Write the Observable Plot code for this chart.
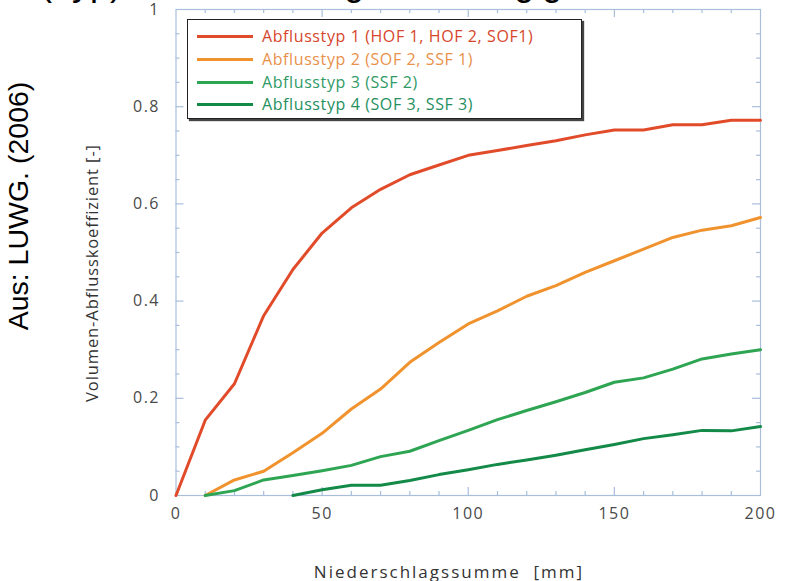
<!DOCTYPE html>
<html>
<head>
<meta charset="utf-8">
<script src="https://cdn.jsdelivr.net/npm/d3@7"></script>
<script src="https://cdn.jsdelivr.net/npm/@observablehq/plot@0.6"></script>
<style>
  body { margin: 0; background: #fff; }
  #wrap { position: relative; width: 787px; height: 581px; overflow: hidden; font-family: "Open Sans", sans-serif; }
  #chart { position: absolute; left: 0; top: 0; }
  #title { position: absolute; left: 40px; top: -31.4px; font-family: "Liberation Sans", Arial, sans-serif; font-size: 36px; line-height: 0.8; color: #000; white-space: nowrap; z-index: 3; }
  #source { position: absolute; left: 18px; top: 206px; transform: translate(-50%, -50%) rotate(-90deg); font-family: "Liberation Sans", Arial, sans-serif; font-size: 28.5px; line-height: 1; color: #000; white-space: nowrap; z-index: 3; }
  #ylabel { position: absolute; left: 92px; top: 273px; transform: translate(-50%, -50%) rotate(-90deg); font-size: 16.5px; line-height: 1; letter-spacing: 0.9px; color: #333; white-space: nowrap; z-index: 3; }
  #xlabel { position: absolute; left: 449px; top: 571px; transform: translate(-50%, -50%); font-size: 17px; line-height: 1; letter-spacing: 2px; color: #333; white-space: pre; z-index: 3; }
  #legend { position: absolute; left: 187px; top: 19px; width: 393px; height: 98px; border: 1.5px solid #222; background: #fff; box-shadow: 2px 2px 1px #444; z-index: 2; }
  .row { position: absolute; left: 9px; height: 20px; display: flex; align-items: center; font-size: 16px; letter-spacing: 0.6px; white-space: nowrap; }
  .sw { width: 56px; height: 3px; margin-right: 9px; }
</style>
</head>
<body>
<div id="wrap">
  <div id="chart"></div>
  <div id="title">(Typ) Abflussbildung in Abhängigkeit vom Niederschlag</div>
  <div id="source">Aus: LUWG. (2006)</div>
  <div id="ylabel">Volumen-Abflusskoeffizient [-]</div>
  <div id="xlabel">Niederschlagssumme  [mm]</div>
  <div id="legend"></div>
</div>
<script>
// x values: Niederschlagssumme [mm]
const precipitation = [0, 10, 20, 30, 40, 50, 60, 70, 80, 90, 100, 110, 120, 130, 140, 150, 160, 170, 180, 190, 200];
// Volumen-Abflusskoeffizient per Abflusstyp (null = not drawn)
const typ1 = [0, 0.155, 0.23, 0.37, 0.465, 0.54, 0.592, 0.63, 0.66, 0.68, 0.70, 0.71, 0.72, 0.73, 0.742, 0.752, 0.752, 0.763, 0.763, 0.772, 0.772];
const typ2 = [null, 0, 0.032, 0.05, 0.088, 0.128, 0.178, 0.219, 0.274, 0.315, 0.353, 0.38, 0.41, 0.432, 0.459, 0.483, 0.507, 0.531, 0.546, 0.555, 0.572];
const typ3 = [null, 0, 0.01, 0.032, 0.041, 0.051, 0.062, 0.08, 0.091, 0.113, 0.134, 0.156, 0.175, 0.193, 0.212, 0.233, 0.242, 0.26, 0.281, 0.291, 0.30];
const typ4 = [null, null, null, null, 0, 0.012, 0.021, 0.021, 0.031, 0.043, 0.053, 0.064, 0.073, 0.083, 0.094, 0.105, 0.117, 0.125, 0.134, 0.133, 0.142];

const seriesNames = ["Abflusstyp 1 (HOF 1, HOF 2, SOF1)", "Abflusstyp 2 (SOF 2, SSF 1)", "Abflusstyp 3 (SSF 2)", "Abflusstyp 4 (SOF 3, SSF 3)"];
const lineColors = ["#e14b2a", "#f0922e", "#2ea552", "#138a48"];
const textColors = ["#d6462c", "#e8914a", "#2f9a66", "#258f5e"];

const xTickLabels = [0, 50, 100, 150, 200];
const xMajorTicks = [50, 100, 150];
const xMinorTicks = [10, 20, 30, 40, 60, 70, 80, 90, 110, 120, 130, 140, 160, 170, 180, 190];
const yTickLabels = [0, 0.2, 0.4, 0.6, 0.8, 1];
const yMajorTicks = [0.2, 0.4, 0.6, 0.8];
const yMinorTicks = [0.05, 0.1, 0.15, 0.25, 0.3, 0.35, 0.45, 0.5, 0.55, 0.65, 0.7, 0.75, 0.85, 0.9, 0.95];

const allSeries = [typ1, typ2, typ3, typ4];
const rows = allSeries.map(vals => precipitation.map((p, i) => ({p, v: vals[i]})).filter(d => d.v != null));

const W = 787, H = 581, mL = 175.5, mR = 27, mT = 9, mB = 86;
const plotW = W - mL - mR, plotH = H - mT - mB;
const frameColor = "#a9bedb";

function xTicks(values, len, where) {
  return Plot.tickX(values, {x: d => d, stroke: frameColor, strokeWidth: 1.2,
    ...(where === "bottom" ? {insetTop: plotH - len} : {insetBottom: plotH - len})});
}
function yTicks(values, len, where) {
  return Plot.tickY(values, {y: d => d, stroke: frameColor, strokeWidth: 1.2,
    ...(where === "left" ? {insetRight: plotW - len} : {insetLeft: plotW - len})});
}

const chart = Plot.plot({
  width: W,
  height: H,
  marginLeft: mL,
  marginRight: mR,
  marginTop: mT,
  marginBottom: mB,
  style: {fontFamily: "'Open Sans', sans-serif", fontSize: "16px", background: "transparent", letterSpacing: "1.5px"},
  x: {domain: [0, 200]},
  y: {domain: [0, 1]},
  marks: [
    Plot.frame({stroke: frameColor, strokeWidth: 1.2}),
    xTicks(xMinorTicks, 4, "bottom"),
    xTicks(xMajorTicks, 8, "bottom"),
    xTicks(xMinorTicks, 4, "top"),
    xTicks(xMajorTicks, 8, "top"),
    yTicks(yMinorTicks, 4, "left"),
    yTicks(yMajorTicks, 8, "left"),
    yTicks(yMinorTicks, 4, "right"),
    yTicks(yMajorTicks, 8, "right"),
    Plot.axisX(xTickLabels, {anchor: "bottom", tickSize: 0, tickPadding: 12, fill: "#4a4a4a", label: null}),
    Plot.axisY(yTickLabels, {anchor: "left", tickSize: 0, tickPadding: 16, fill: "#4a4a4a", label: null,
      tickFormat: d => (d === 0 || d === 1) ? String(d) : d.toFixed(1)}),
    ...rows.map((r, i) => Plot.line(r, {x: "p", y: "v", stroke: lineColors[i], strokeWidth: 3, strokeLinejoin: "round"}))
  ]
});
document.getElementById("chart").appendChild(chart);

const legend = document.getElementById("legend");
const rowTops = [6, 29, 52, 74];
seriesNames.forEach((name, i) => {
  const row = document.createElement("div");
  row.className = "row";
  row.style.top = rowTops[i] + "px";
  const sw = document.createElement("div");
  sw.className = "sw";
  sw.style.background = lineColors[i];
  const tx = document.createElement("span");
  tx.textContent = name;
  tx.style.color = textColors[i];
  row.appendChild(sw);
  row.appendChild(tx);
  legend.appendChild(row);
});
</script>
</body>
</html>
